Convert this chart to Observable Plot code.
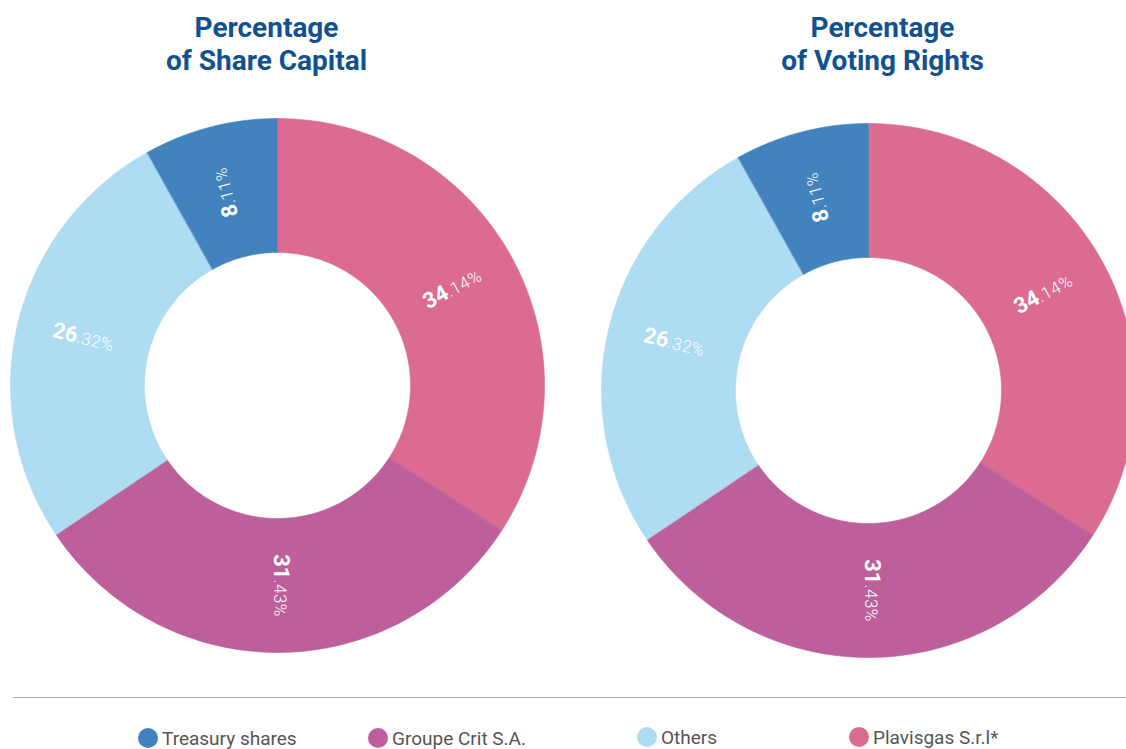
<!DOCTYPE html>
<html>
<head>
<meta charset="utf-8">
<script src="https://cdn.jsdelivr.net/npm/d3@7"></script>
<script src="https://cdn.jsdelivr.net/npm/@observablehq/plot@0.6"></script>
<style>
  html, body { margin: 0; padding: 0; background: #fff; }
  #wrap { position: relative; width: 1126px; height: 749px; overflow: hidden; font-family: Roboto, sans-serif; }
  #chart { position: absolute; left: 0; top: 0; }
  #rule { position: absolute; left: 13px; right: 0; top: 697px; border-top: 1px solid #aaaaaa; }
  .item { position: absolute; display: flex; align-items: center; font-size: 19px; line-height: 1; color: #555; white-space: nowrap; }
  .item .sw { width: 20px; height: 20px; border-radius: 50%; margin-right: 4px; }
</style>
</head>
<body>
<div id="wrap">
  <div id="chart"></div>
  <div id="rule"></div>
  <div id="legend"></div>
</div>
<script>
// ---- data ----
const categories = ["Plavisgas S.r.l*", "Groupe Crit S.A.", "Others", "Treasury shares"];
const shareCapital = [34.14, 31.43, 26.32, 8.11];
const votingRights = [34.14, 31.43, 26.32, 8.11];
const chartTitles = ["Percentage\nof Share Capital", "Percentage\nof Voting Rights"];
const colors = ["#DB6B91", "#BC5F9B", "#AEDCF2", "#4383BD"];
const legendOrder = ["Treasury shares", "Groupe Crit S.A.", "Others", "Plavisgas S.r.l*"];

// ---- layout ----
const W = 1126, H = 690;
const layout = [
  {cx: 277, cy: 385, tx: 266},
  {cx: 868, cy: 390, tx: 882}
];
const rOuter = 267, rInner = 133, rLabel = 200, titleTop = 13;
const legendLeft = [138, 368, 637, 849];
const legendTop = [728, 728, 727, 727];

const series = [shareCapital, votingRights];

const polys = [];
const labels = [];
series.forEach((vals, ci) => {
  const {cx, cy} = layout[ci];
  let cum = 0;
  vals.forEach((v, i) => {
    const a0 = cum / 100 * 2 * Math.PI;
    const a1 = (cum + v) / 100 * 2 * Math.PI;
    const n = Math.ceil(v * 3) + 2;
    const key = ci + "-" + i;
    for (let k = 0; k <= n; k++) {
      const a = a0 + (a1 - a0) * k / n;
      polys.push({key, cat: categories[i], x: cx + rOuter * Math.sin(a), y: cy - rOuter * Math.cos(a)});
    }
    for (let k = n; k >= 0; k--) {
      const a = a0 + (a1 - a0) * k / n;
      polys.push({key, cat: categories[i], x: cx + rInner * Math.sin(a), y: cy - rInner * Math.cos(a)});
    }
    const mid = (a0 + a1) / 2;
    let rot = mid * 180 / Math.PI - 90;
    if (rot > 180) rot -= 360;
    if (rot < -135) rot += 180;
    labels.push({
      x: cx + rLabel * Math.sin(mid),
      y: cy - rLabel * Math.cos(mid),
      rot,
      text: v.toFixed(2) + "%"
    });
    cum += v;
  });
});

const titles = chartTitles.map((t, ci) => ({x: layout[ci].tx, y: titleTop, text: t}));

const plot = Plot.plot({
  width: W,
  height: H,
  margin: 0,
  style: {fontFamily: "Roboto, sans-serif", background: "#fff", overflow: "hidden"},
  x: {domain: [0, W], range: [0, W], axis: null},
  y: {domain: [0, H], range: [0, H], axis: null},
  color: {domain: categories, range: colors},
  marks: [
    Plot.line(polys, {x: "x", y: "y", z: "key", fill: "cat", stroke: "cat", strokeWidth: 0.6, curve: "linear-closed"}),
    Plot.text(labels, {x: "x", y: "y", text: "text", rotate: "rot", fill: "white", fontSize: 16}),
    Plot.text(titles, {x: "x", y: "y", text: "text", lineAnchor: "top", lineHeight: 1.18, fontSize: 28, fontWeight: "bold", fill: "#12518f"})
  ]
});
document.getElementById("chart").appendChild(plot);

// split labels into bold integer part and lighter decimal part
const ns = "http://www.w3.org/2000/svg";
plot.querySelectorAll("text").forEach(t => {
  const s = t.textContent;
  if (!/^\d+\.\d+%$/.test(s)) return;
  const [intPart, rest] = s.split(".");
  while (t.firstChild) t.removeChild(t.firstChild);
  const a = document.createElementNS(ns, "tspan");
  a.setAttribute("font-weight", "bold");
  a.setAttribute("font-size", "22");
  a.textContent = intPart;
  const b = document.createElementNS(ns, "tspan");
  b.setAttribute("font-size", "17");
  b.setAttribute("font-weight", "300");
  b.setAttribute("letter-spacing", "0.5");
  b.textContent = "." + rest;
  t.appendChild(a);
  t.appendChild(b);
});

// legend
const legend = document.getElementById("legend");
legendOrder.forEach((name, i) => {
  const it = document.createElement("div");
  it.className = "item";
  it.style.left = legendLeft[i] + "px";
  it.style.top = legendTop[i] + "px";
  const sw = document.createElement("span");
  sw.className = "sw";
  sw.style.background = colors[categories.indexOf(name)];
  const tx = document.createElement("span");
  tx.textContent = name;
  it.appendChild(sw);
  it.appendChild(tx);
  legend.appendChild(it);
});
</script>
</body>
</html>
